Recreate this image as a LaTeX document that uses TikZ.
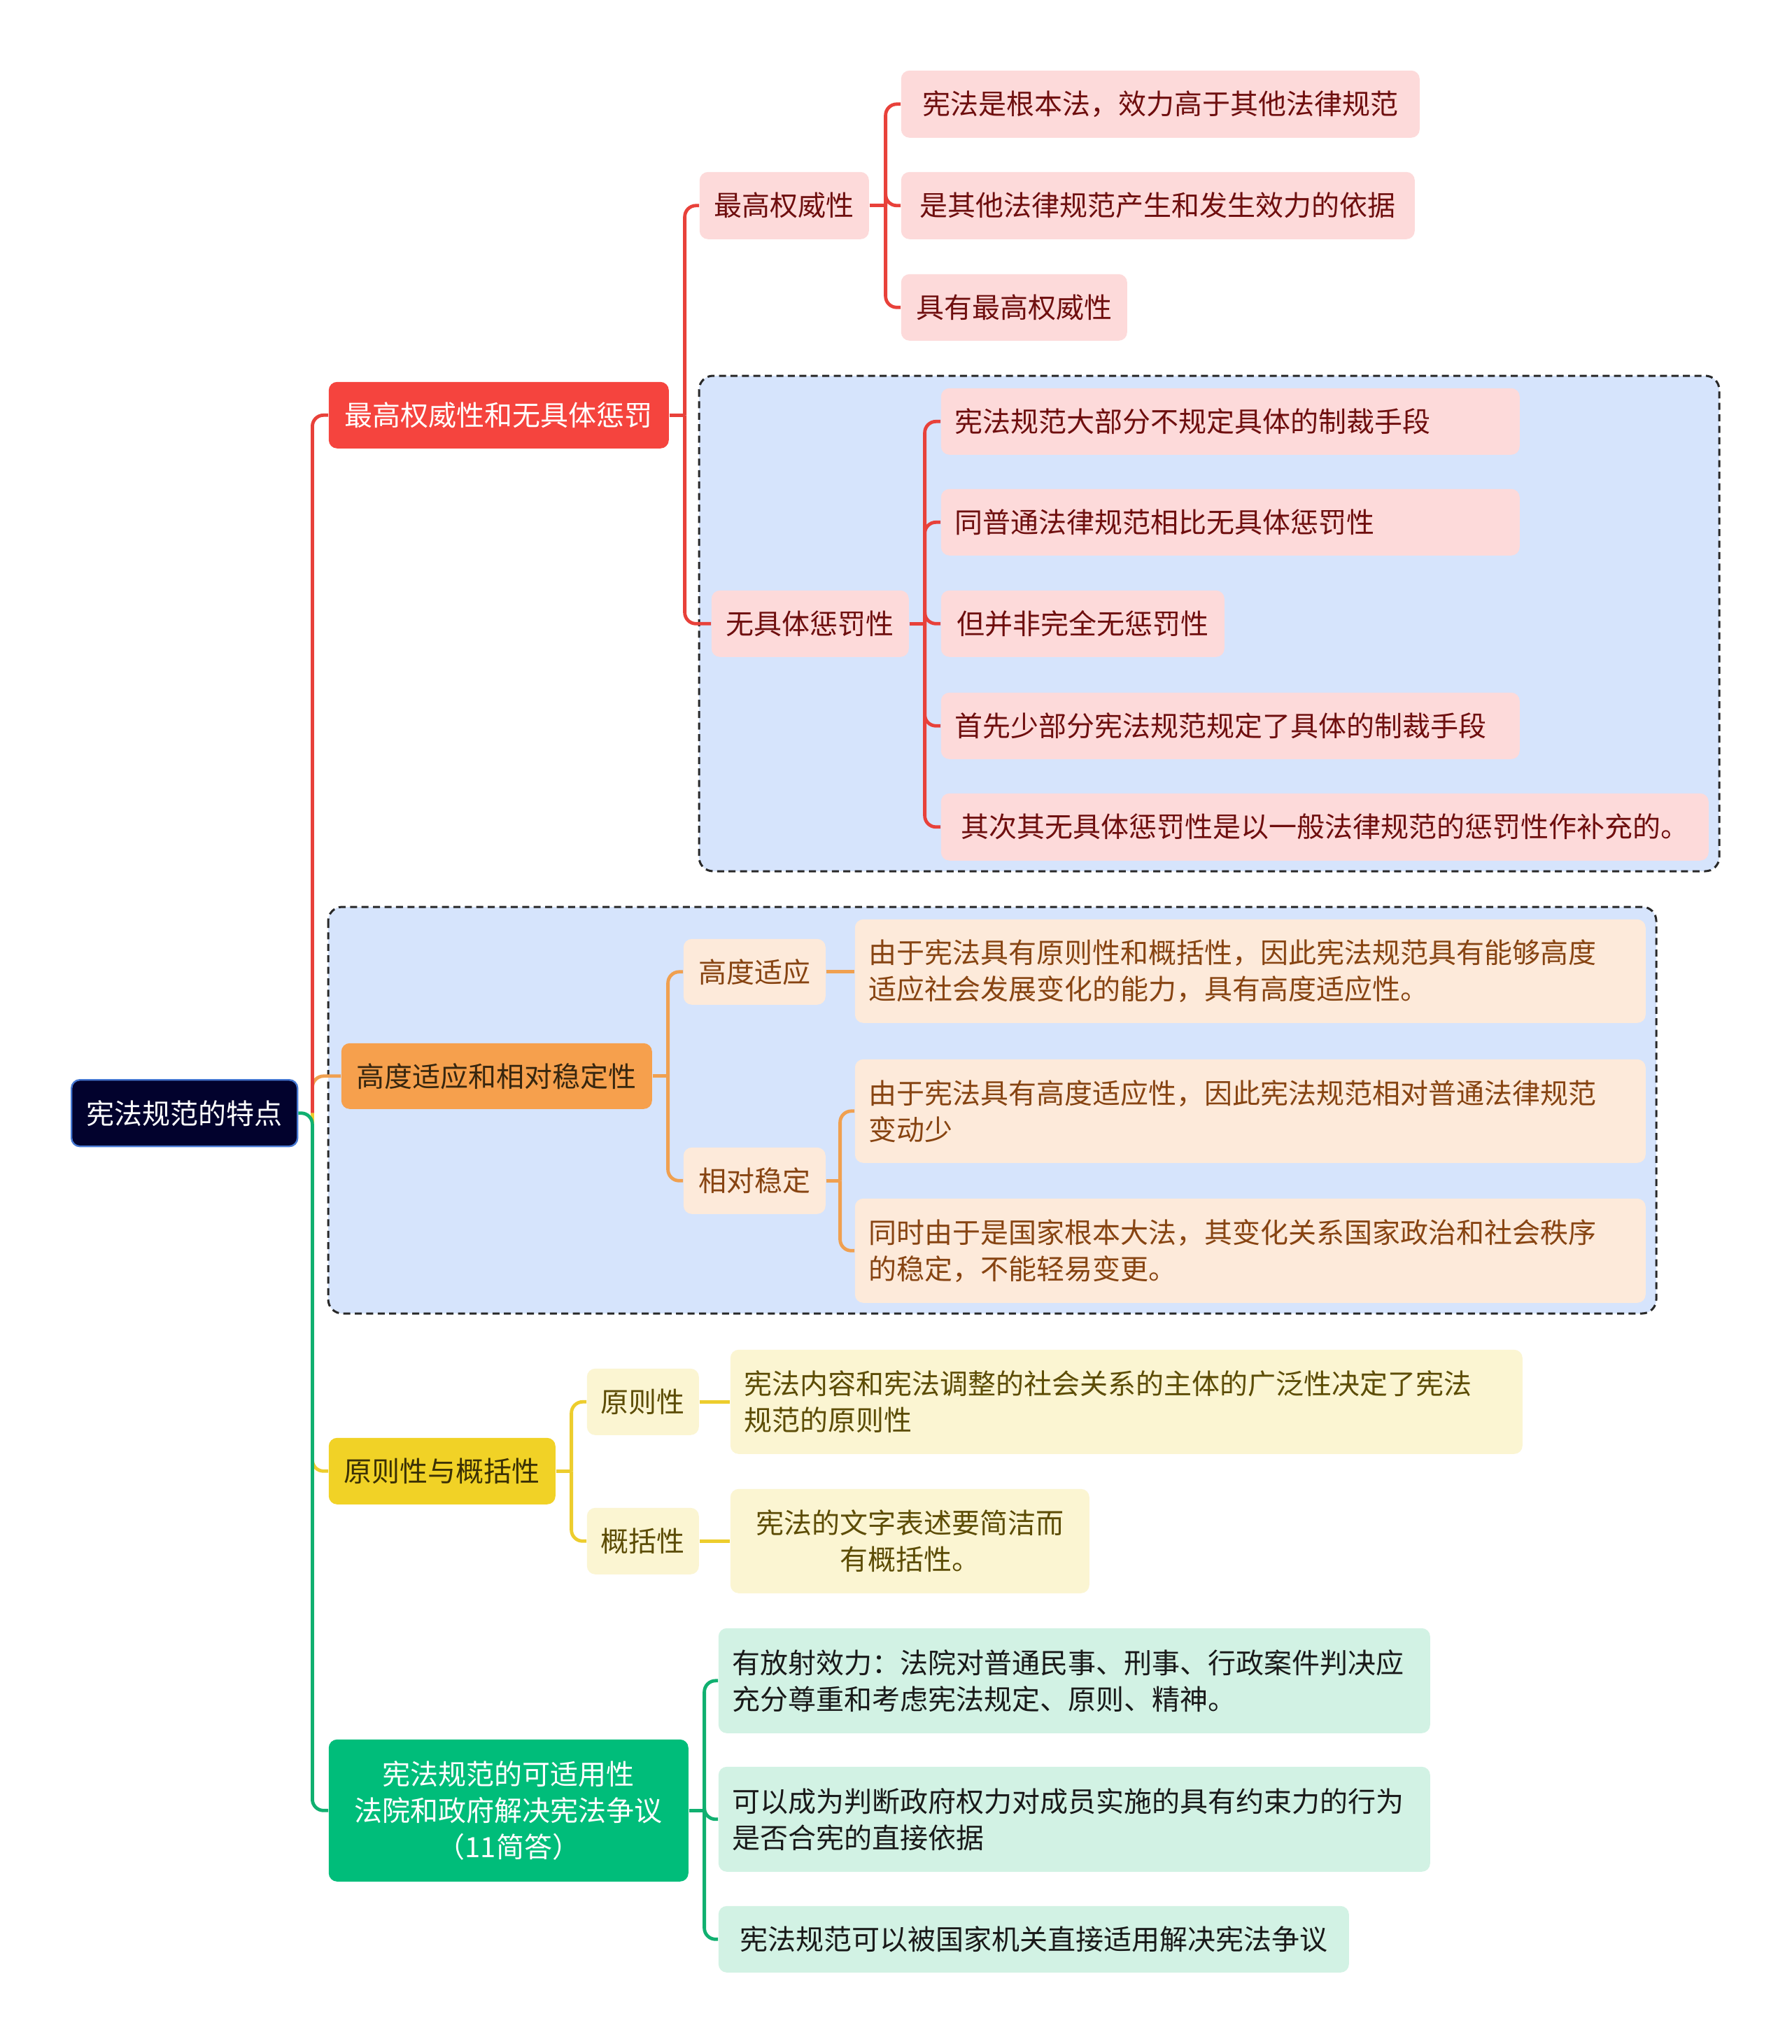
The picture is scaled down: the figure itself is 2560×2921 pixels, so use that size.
\documentclass[tikz,border=0pt]{standalone}
\usepackage{fontspec}
\setmainfont{Noto Sans CJK SC}

\definecolor{rootfill}{RGB}{2,2,45}
\definecolor{rootline}{RGB}{70,120,210}
\definecolor{redmain}{RGB}{245,68,62}
\definecolor{redline}{RGB}{232,65,58}
\definecolor{redsoft}{RGB}{253,218,218}
\definecolor{redtext}{RGB}{110,14,14}
\definecolor{orgmain}{RGB}{246,160,77}
\definecolor{orgline}{RGB}{240,160,80}
\definecolor{orgsoft}{RGB}{253,234,218}
\definecolor{orgtext}{RGB}{135,68,18}
\definecolor{orgdark}{RGB}{55,38,15}
\definecolor{ylwmain}{RGB}{241,210,38}
\definecolor{ylwline}{RGB}{237,205,45}
\definecolor{ylwsoft}{RGB}{251,245,210}
\definecolor{ylwtext}{RGB}{92,76,5}
\definecolor{ylwdark}{RGB}{58,48,5}
\definecolor{grnmain}{RGB}{0,189,122}
\definecolor{grnline}{RGB}{16,176,112}
\definecolor{grnsoft}{RGB}{210,242,228}
\definecolor{grntext}{RGB}{25,25,25}
\definecolor{groupfill}{RGB}{214,228,252}
\definecolor{groupline}{RGB}{40,40,40}

\begin{document}
\begin{tikzpicture}[x=0.25pt,y=0.25pt,yscale=-1,xscale=1,
  every node/.style={font=\fontsize{10pt}{13pt}\selectfont, inner sep=0pt, anchor=north west, rounded corners=3pt},
  boxsize/.style 2 args={minimum width=#1, minimum height=#2},
  leftbox/.style={align=left, text width=#1, inner xsep=5pt},
  topic/.style={fill=rootfill, draw=rootline, line width=0.6pt, text=white},
  redhead/.style={fill=redmain, text=white},
  redleaf/.style={fill=redsoft, text=redtext},
  orghead/.style={fill=orgmain, text=orgdark},
  orgleaf/.style={fill=orgsoft, text=orgtext},
  ylwhead/.style={fill=ylwmain, text=ylwdark},
  ylwleaf/.style={fill=ylwsoft, text=ylwtext},
  grnhead/.style={fill=grnmain, text=white},
  grnleaf/.style={fill=grnsoft, text=grntext},
  group/.style={fill=groupfill, draw=groupline, line width=0.75pt, dash pattern=on 2.5pt off 1.6pt, rounded corners=5pt},
  link/.style={line width=1.2pt, rounded corners=4pt}]
\path[use as bounding box, fill=white] (0,0) rectangle (2560,2921);

%groups behind the leaves
\draw[group] (999,537) rectangle (2457,1245);
\draw[group] (469,1296) rectangle (2367,1877);

%root and main branches
\node[topic, boxsize={80.75pt}{23.75pt}] (traits) at (101,1542) {宪法规范的特点};
\node[redhead, boxsize={121.5pt}{23.75pt}] (supreme) at (469,545) {最高权威性和无具体惩罚};
\node[orghead, boxsize={111pt}{23.5pt}] (adapt) at (487,1490) {高度适应和相对稳定性};
\node[ylwhead, boxsize={81pt}{23.75pt}] (principle) at (469,2054) {原则性与概括性};
\node[grnhead, boxsize={128.5pt}{50.75pt}, align=center] (apply) at (469,2485) {宪法规范的可适用性\\法院和政府解决宪法争议\\（11简答）};

%red part
\node[redleaf, boxsize={60.5pt}{24pt}] (highest) at (999,245) {最高权威性};
\node[redleaf, boxsize={70.5pt}{23.75pt}] (nopenal) at (1016,843) {无具体惩罚性};
\node[redleaf, boxsize={185.25pt}{24pt}] (basiclaw) at (1287,100) {宪法是根本法，效力高于其他法律规范};
\node[redleaf, boxsize={183.5pt}{24pt}] (basis) at (1287,245) {是其他法律规范产生和发生效力的依据};
\node[redleaf, boxsize={80.75pt}{23.75pt}] (topauth) at (1287,391) {具有最高权威性};
\node[redleaf, boxsize={206.75pt}{23.75pt}, leftbox=196.75pt] (nosanct) at (1344,554) {宪法规范大部分不规定具体的制裁手段};
\node[redleaf, boxsize={206.75pt}{23.75pt}, leftbox=196.75pt] (compare) at (1344,698) {同普通法律规范相比无具体惩罚性};
\node[redleaf, boxsize={101.25pt}{23.75pt}] (notnone) at (1344,843) {但并非完全无惩罚性};
\node[redleaf, boxsize={206.75pt}{23.75pt}, leftbox=196.75pt] (fewsanct) at (1344,989) {首先少部分宪法规范规定了具体的制裁手段};
\node[redleaf, boxsize={274.25pt}{24pt}] (supplement) at (1344,1133) {其次其无具体惩罚性是以一般法律规范的惩罚性作补充的。};

%orange part
\node[orgleaf, boxsize={50.75pt}{23.5pt}] (highadapt) at (976,1341) {高度适应};
\node[orgleaf, boxsize={50.75pt}{23.75pt}] (stable) at (976,1639) {相对稳定};
\node[orgleaf, boxsize={282.5pt}{37pt}, leftbox=272.5pt] (adaptwhy) at (1221,1313) {由于宪法具有原则性和概括性，因此宪法规范具有能够高度\\适应社会发展变化的能力，具有高度适应性。};
\node[orgleaf, boxsize={282.5pt}{37pt}, leftbox=272.5pt] (littlechange) at (1221,1513) {由于宪法具有高度适应性，因此宪法规范相对普通法律规范\\变动少};
\node[orgleaf, boxsize={282.5pt}{37.25pt}, leftbox=272.5pt] (nochange) at (1221,1712) {同时由于是国家根本大法，其变化关系国家政治和社会秩序\\的稳定，不能轻易变更。};

%yellow part
\node[ylwleaf, boxsize={40pt}{23.75pt}] (princ) at (838,1955) {原则性};
\node[ylwleaf, boxsize={40pt}{23.75pt}] (general) at (838,2154) {概括性};
\node[ylwleaf, boxsize={283pt}{37.25pt}, leftbox=273pt] (princwhy) at (1043,1928) {宪法内容和宪法调整的社会关系的主体的广泛性决定了宪法\\规范的原则性};
\node[ylwleaf, boxsize={128.25pt}{37.25pt}, align=center] (concise) at (1043,2127) {宪法的文字表述要简洁而\\有概括性。};

%green part
\node[grnleaf, boxsize={254.25pt}{37.5pt}, leftbox=244.25pt] (radiate) at (1026,2326) {有放射效力：法院对普通民事、刑事、行政案件判决应\\充分尊重和考虑宪法规定、原则、精神。};
\node[grnleaf, boxsize={254.25pt}{37.5pt}, leftbox=244.25pt] (judge) at (1026,2524) {可以成为判断政府权力对成员实施的具有约束力的行为\\是否合宪的直接依据};
\node[grnleaf, boxsize={225.25pt}{23.75pt}] (direct) at (1026,2723) {宪法规范可以被国家机关直接适用解决宪法争议};

%junctions
\coordinate (trunk) at ([xshift=5pt]traits.east);
\coordinate (supremeJ) at ([xshift=5.5pt]supreme.east);
\coordinate (highestJ) at ([xshift=5.75pt]highest.east);
\coordinate (nopenalJ) at ([xshift=5.5pt]nopenal.east);
\coordinate (adaptJ) at ([xshift=5.5pt]adapt.east);
\coordinate (stableJ) at ([xshift=5pt]stable.east);
\coordinate (principleJ) at ([xshift=5.5pt]principle.east);
\coordinate (applyJ) at ([xshift=5.5pt]apply.east);

%root connectors
\draw[link, orgline] (trunk) |- (adapt.west);
\draw[link, redline] (trunk) |- (supreme.west);
\draw[link, ylwline] (trunk) |- (principle.west);
\draw[link, grnline] (traits.east) -- (trunk) |- (apply.west);

%red connectors
\draw[link, redline] (supreme.east) -- (supremeJ);
\draw[link, redline] (supremeJ) |- (highest.west);
\draw[link, redline] (supremeJ) |- (nopenal.west);
\draw[link, redline] (highest.east) -- (highestJ);
\draw[link, redline] (highestJ) |- (basiclaw.west);
\draw[link, redline] (highestJ) |- (basis.west);
\draw[link, redline] (highestJ) |- (topauth.west);
\draw[link, redline] (nopenal.east) -- (nopenalJ);
\draw[link, redline] (nopenalJ) |- (nosanct.west);
\draw[link, redline] (nopenalJ) |- (compare.west);
\draw[link, redline] (nopenalJ) |- (notnone.west);
\draw[link, redline] (nopenalJ) |- (fewsanct.west);
\draw[link, redline] (nopenalJ) |- (supplement.west);

%orange connectors
\draw[link, orgline] (adapt.east) -- (adaptJ);
\draw[link, orgline] (adaptJ) |- (highadapt.west);
\draw[link, orgline] (adaptJ) |- (stable.west);
\draw[link, orgline] (highadapt.east) -- (highadapt.east -| adaptwhy.west);
\draw[link, orgline] (stable.east) -- (stableJ);
\draw[link, orgline] (stableJ) |- (littlechange.west);
\draw[link, orgline] (stableJ) |- (nochange.west);

%yellow connectors
\draw[link, ylwline] (principle.east) -- (principleJ);
\draw[link, ylwline] (principleJ) |- (princ.west);
\draw[link, ylwline] (principleJ) |- (general.west);
\draw[link, ylwline] (princ.east) -- (princwhy.west);
\draw[link, ylwline] (general.east) -- (concise.west);

%green connectors
\draw[link, grnline] (apply.east) -- (applyJ);
\draw[link, grnline] (applyJ) |- (radiate.west);
\draw[link, grnline] (applyJ) |- (judge.west);
\draw[link, grnline] (applyJ) |- (direct.west);

\end{tikzpicture}
\end{document}
